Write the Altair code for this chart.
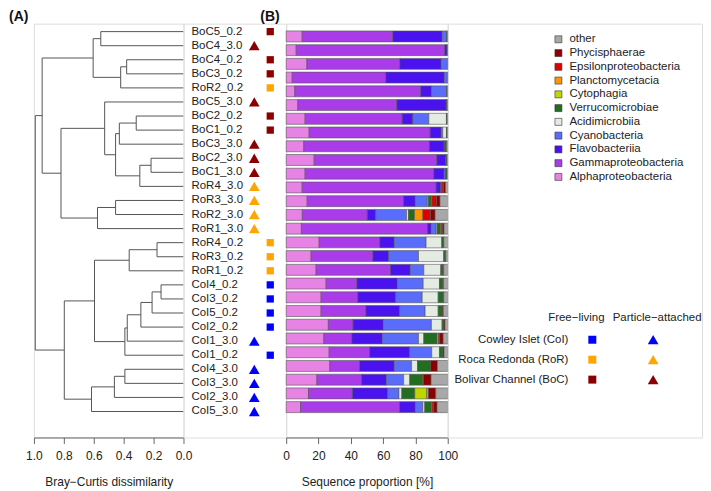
import altair as alt
import pandas as pd

FONT = "Liberation Sans"
TXT = "#222222"

# ---------------- data ----------------
samples = ["BoC5_0.2", "BoC4_3.0", "BoC4_0.2", "BoC3_0.2", "RoR2_0.2", "BoC5_3.0",
           "BoC2_0.2", "BoC1_0.2", "BoC3_3.0", "BoC2_3.0", "BoC1_3.0", "RoR4_3.0",
           "RoR3_3.0", "RoR2_3.0", "RoR1_3.0", "RoR4_0.2", "RoR3_0.2", "RoR1_0.2",
           "CoI4_0.2", "CoI3_0.2", "CoI5_0.2", "CoI2_0.2", "CoI1_3.0", "CoI1_0.2",
           "CoI4_3.0", "CoI3_3.0", "CoI2_3.0", "CoI5_3.0"]

alpha   = [9.9, 6.2, 12.8, 3.7, 5.3, 7.2, 11.7, 14.2, 10.9, 17.3, 11.7, 9.9, 13.0, 10.0,
           9.4, 20.4, 15.4, 18.5, 24.7, 21.6, 21.6, 26.1, 23.3, 26.6, 27.0, 19.0, 13.8, 8.9]
gamma   = [56.1, 91.9, 57.6, 58.0, 78.0, 61.3, 60.1, 74.9, 77.8, 75.9, 79.7, 82.9, 59.7, 40.2,
           78.1, 37.6, 38.3, 46.1, 19.1, 22.7, 27.8, 15.3, 17.4, 25.1, 18.5, 27.7, 27.2, 61.3]
flavo   = [30.5, 1.5, 25.5, 36.2, 6.6, 30.5, 6.6, 6.8, 9.0, 5.4, 6.3, 2.9, 7.2, 5.2,
           2.2, 8.9, 9.7, 12.2, 25.0, 23.4, 20.8, 18.7, 18.8, 24.7, 21.4, 15.3, 21.8, 9.7]
cyano   = [2.9, 0.2, 3.9, 1.9, 9.5, 0.3, 9.9, 1.0, 0.3, 0.3, 0.9, 0.3, 7.4, 19.1,
           3.1, 19.7, 18.5, 8.4, 16.0, 16.5, 15.8, 29.8, 22.4, 13.7, 10.7, 10.7, 7.0, 4.7]
acidi   = [0, 0, 0, 0, 0, 0, 10.9, 2.3, 0, 0, 0, 0, 0.6, 1.2,
           0.6, 9.7, 15.6, 10.5, 10.1, 9.9, 8.1, 6.6, 3.3, 4.8, 3.7, 3.8, 1.8, 1.2]
verruco = [0.3, 0.2, 0.1, 0.1, 0.3, 0.4, 0.4, 0.4, 1.0, 0.6, 1.0, 0.5, 1.9, 3.7,
           2.1, 1.0, 0.9, 1.3, 2.0, 3.0, 2.6, 1.2, 8.2, 2.1, 8.0, 8.1, 8.0, 4.1]
cyto    = [0, 0, 0, 0, 0, 0, 0, 0, 0, 0, 0, 0, 0, 0,
           0, 0, 0, 0, 0, 0, 0, 0, 0, 0, 0, 0, 7.4, 0.4]
planct  = [0, 0, 0, 0, 0, 0, 0, 0, 0, 0, 0, 0, 0.4, 5.2,
           0.5, 0, 0, 0, 0, 0, 0, 0, 0.9, 0, 0, 0, 1.1, 0]
epsilon = [0, 0, 0, 0, 0, 0, 0, 0, 0, 0, 0, 0.8, 2.9, 4.7,
           0.7, 0, 0, 0, 0, 0, 0, 0, 0.7, 0, 0, 0.4, 0, 1.0]
phycis  = [0, 0, 0, 0, 0, 0, 0, 0, 0.2, 0, 0, 1.3, 2.1, 2.9,
           1.0, 0.3, 0.4, 0.5, 0.5, 0.4, 0.6, 0.6, 2.2, 0.7, 4.3, 4.7, 4.5, 2.1]
other   = [0.3, 0, 0.1, 0.1, 0.3, 0.3, 0.4, 0.4, 0.8, 0.5, 0.4, 1.4, 4.8, 7.8,
           2.3, 2.4, 1.2, 2.5, 2.6, 2.5, 2.7, 1.7, 2.8, 2.3, 6.4, 10.3, 7.4, 6.6]

classes = ["Alphaproteobacteria", "Gammaproteobacteria", "Flavobacteriia", "Cyanobacteria",
           "Acidimicrobiia", "Verrucomicrobiae", "Cytophagia", "Planctomycetacia",
           "Epsilonproteobacteria", "Phycisphaerae", "other"]
class_values = [alpha, gamma, flavo, cyano, acidi, verruco, cyto, planct, epsilon, phycis, other]
class_colors = ["#E683E4", "#A93CE8", "#4B12F0", "#5A6DFA", "#E3EBE3", "#216E21",
                "#BFD600", "#FF9500", "#E00000", "#8B0000", "#A8A8A8"]

# dendrogram merges: (node, child a, child b, Bray-Curtis height)
merges = [
    ("m1", "BoC5_0.2", "BoC4_3.0", 0.553), ("m2", "BoC4_0.2", "BoC3_0.2", 0.380),
    ("m3", "m2", "RoR2_0.2", 0.420), ("m4", "m1", "m3", 0.604),
    ("m5", "BoC2_0.2", "BoC1_0.2", 0.316), ("m6", "m5", "BoC3_3.0", 0.429),
    ("m7", "BoC2_3.0", "BoC1_3.0", 0.217), ("m8", "m7", "RoR4_3.0", 0.292),
    ("m9", "m6", "m8", 0.454), ("m10", "BoC5_3.0", "m9", 0.527),
    ("m11", "RoR3_3.0", "RoR2_3.0", 0.454), ("m12", "m11", "RoR1_3.0", 0.575),
    ("m13", "m10", "m12", 0.819), ("m14", "m4", "m13", 0.945),
    ("m15", "RoR4_0.2", "RoR3_0.2", 0.177), ("m16", "m15", "RoR1_0.2", 0.363),
    ("m17", "CoI4_0.2", "CoI3_0.2", 0.150), ("m18", "m17", "CoI5_0.2", 0.210),
    ("m19", "m18", "CoI2_0.2", 0.285), ("m20", "m19", "CoI1_3.0", 0.376),
    ("m21", "m20", "CoI1_0.2", 0.392), ("m22", "m16", "m21", 0.595),
    ("m23", "CoI4_3.0", "CoI3_3.0", 0.392), ("m24", "m23", "CoI2_3.0", 0.462),
    ("m25", "m24", "CoI5_3.0", 0.615), ("m26", "m22", "m25", 0.797),
    ("root", "m14", "m26", 0.991),
]

site_codes = ["CoI", "RoR", "BoC"]
site_names = ["Cowley Islet (CoI)", "Roca Redonda (RoR)", "Bolivar Channel (BoC)"]
site_colors = ["#0000FF", "#FFA500", "#8B0000"]

# ---------------- layout constants ----------------
H = 415
yscale = alt.Scale(domain=[-0.567, 28.845], reverse=True, nice=False, zero=False)
site_scale = alt.Scale(domain=site_codes, range=site_colors)
cls_scale = alt.Scale(domain=classes, range=class_colors)

def axis(values, fmt, title):
    return alt.Axis(values=values, format=fmt, title=title, grid=False,
                    domainColor="#666666", tickColor="#666666", tickSize=6,
                    domainWidth=1, tickWidth=1, labelFlush=False,
                    labelFont=FONT, labelFontSize=12, labelColor=TXT, labelPadding=7,
                    titleFont=FONT, titleFontSize=12, titleFontWeight="normal",
                    titleColor=TXT, titlePadding=15)

def tag(label, dx):
    return alt.Chart(pd.DataFrame({"t": [label]})).mark_text(
        align="left", baseline="top", fontSize=14, fontWeight="bold", font=FONT, color="#111"
    ).encode(x=alt.value(dx), y=alt.value(-14), text="t:N")

# ---------------- dendrogram ----------------
pos = {s: i for i, s in enumerate(samples)}
hgt = {s: 0.0 for s in samples}
segs = []
for node, a, b, h in merges:
    for c in (a, b):
        segs.append({"x": hgt[c], "x2": h, "y": pos[c], "y2": pos[c]})
    segs.append({"x": h, "x2": h, "y": pos[a], "y2": pos[b]})
    pos[node] = (pos[a] + pos[b]) / 2
    hgt[node] = h
seg_df = pd.DataFrame(segs)

dendro = alt.Chart(seg_df).mark_rule(color="#555555", strokeWidth=1).encode(
    x=alt.X("x:Q", scale=alt.Scale(domain=[0, 1], reverse=True, nice=False),
            axis=axis([0, 0.2, 0.4, 0.6, 0.8, 1.0], ".1f", "Bray\u2212Curtis dissimilarity")),
    x2="x2:Q",
    y=alt.Y("y:Q", scale=yscale, axis=None),
    y2="y2:Q",
)
p1 = alt.layer(dendro, tag("(A)", -25)).properties(width=150, height=H)

# ---------------- labels + symbols ----------------
lab_df = pd.DataFrame({
    "sample": samples,
    "row": list(range(len(samples))),
    "site": [s[:3] for s in samples],
    "frac": [s[-3:] for s in samples],
})
ybase = alt.Y("row:Q", scale=yscale, axis=None)
labels = alt.Chart(lab_df).mark_text(
    align="left", baseline="middle", fontSize=11.5, font=FONT, color=TXT
).encode(x=alt.value(8), y=ybase, text="sample:N")
sq = alt.Chart(lab_df).transform_filter("datum.frac == '0.2'").mark_point(
    shape="square", filled=True, size=53, opacity=1
).encode(x=alt.value(87), y=ybase, color=alt.Color("site:N", scale=site_scale, legend=None))
tri = alt.Chart(lab_df).transform_filter("datum.frac == '3.0'").mark_point(
    shape="triangle-up", filled=True, size=115, opacity=1
).encode(x=alt.value(71), y=ybase, color=alt.Color("site:N", scale=site_scale, legend=None))
p2 = alt.layer(labels, sq, tri).properties(width=103, height=H)

# ---------------- stacked bars ----------------
rows = []
for i, s in enumerate(samples):
    acc = 0.0
    for k, (c, vals) in enumerate(zip(classes, class_values)):
        v = vals[i]
        if v > 0:
            rows.append({"sample": s, "row": i, "cls": c, "start": acc, "end": acc + v})
        acc += v
bar_df = pd.DataFrame(rows)
bars = alt.Chart(bar_df).mark_bar(
    orient="horizontal", size=11, stroke="#555555", strokeWidth=0.6
).encode(
    x=alt.X("start:Q", scale=alt.Scale(domain=[0, 100], nice=False, zero=True),
            axis=axis([0, 20, 40, 60, 80, 100], "d", "Sequence proportion [%]")),
    x2="end:Q",
    y=alt.Y("row:Q", scale=yscale, axis=None),
    color=alt.Color("cls:N", scale=cls_scale, legend=None),
)
p3 = alt.layer(bars, tag("(B)", -26)).properties(width=162, height=H)

# ---------------- legends (panel 4) ----------------
W4 = 255
px = alt.Scale(domain=[0, W4], nice=False, zero=False)
py = alt.Scale(domain=[0, H], reverse=True, nice=False, zero=False)
legend_order = classes[::-1]
leg_df = pd.DataFrame({"cls": legend_order,
                       "py": [15.7 + 13.8 * k for k in range(len(legend_order))]})
sw = alt.Chart(leg_df).mark_point(
    shape="square", filled=True, size=49, opacity=1, stroke="#333333", strokeWidth=0.6
).encode(x=alt.value(111), y=alt.Y("py:Q", scale=py, axis=None),
         fill=alt.Fill("cls:N", scale=cls_scale, legend=None))
sw_txt = alt.Chart(leg_df).mark_text(
    align="left", baseline="middle", fontSize=11.5, font=FONT, color=TXT
).encode(x=alt.value(122), y=alt.Y("py:Q", scale=py, axis=None), text="cls:N")

site_df = pd.DataFrame({"site": site_codes, "name": site_names,
                        "py": [317 + 20 * i for i in range(len(site_codes))]})
hdr_df = pd.DataFrame({"t": ["Free\u2212living", "Particle\u2212attached"],
                       "px": [129, 210], "py": [295.5, 295.5]})
hdr = alt.Chart(hdr_df).mark_text(
    align="center", baseline="middle", fontSize=11.5, font=FONT, color=TXT
).encode(x=alt.X("px:Q", scale=px, axis=None), y=alt.Y("py:Q", scale=py, axis=None), text="t:N")
site_txt = alt.Chart(site_df).mark_text(
    align="right", baseline="middle", fontSize=11.5, font=FONT, color=TXT
).encode(x=alt.value(121), y=alt.Y("py:Q", scale=py, axis=None), text="name:N")
site_sq = alt.Chart(site_df).mark_point(shape="square", filled=True, size=64, opacity=1).encode(
    x=alt.value(145), y=alt.Y("py:Q", scale=py, axis=None),
    color=alt.Color("site:N", scale=site_scale, legend=None))
site_tri = alt.Chart(site_df).mark_point(shape="triangle-up", filled=True, size=115, opacity=1).encode(
    x=alt.value(206), y=alt.Y("py:Q", scale=py, axis=None),
    color=alt.Color("site:N", scale=site_scale, legend=None))
p4 = alt.layer(sw, sw_txt, hdr, site_txt, site_sq, site_tri).properties(width=W4, height=H)

chart = alt.hconcat(p1, p2, p3, p4, spacing=0, bounds="flush").resolve_scale(
    color="independent", fill="independent"
).properties(padding=0).configure_view(stroke=None).configure(font=FONT)

chart.save("out.html", embed_options={"renderer": "svg", "actions": False})
